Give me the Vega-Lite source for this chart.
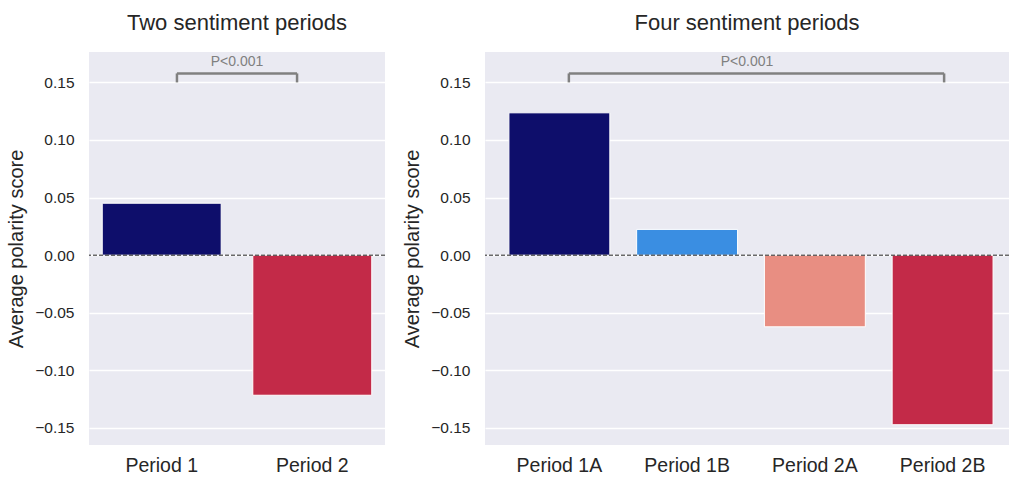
{
  "$schema": "https://vega.github.io/schema/vega-lite/v6.json",
  "background": "white",
  "padding": {"left": 6, "top": 12, "right": 0, "bottom": 0},
  "spacing": 16,
  "resolve": {"scale": {"color": "independent", "x": "independent"}},
  "datasets": {
    "two": [
      {"period": "Period 1", "score": 0.0451},
      {"period": "Period 2", "score": -0.1216}
    ],
    "four": [
      {"period": "Period 1A", "score": 0.1236},
      {"period": "Period 1B", "score": 0.0224},
      {"period": "Period 2A", "score": -0.0622},
      {"period": "Period 2B", "score": -0.1472}
    ],
    "twoSig": [{"from": "Period 1", "to": "Period 2", "label": "P<0.001"}],
    "fourSig": [{"from": "Period 1A", "to": "Period 2B", "label": "P<0.001"}]
  },
  "hconcat": [
    {
      "width": 296,
      "height": 393,
      "title": {"text": "Two sentiment periods"},
      "layer": [
        {
          "data": {"name": "two"},
          "mark": {"type": "bar", "stroke": "white", "strokeWidth": 1},
          "encoding": {
            "x": {"field": "period", "type": "nominal", "title": null, "sort": null,
              "scale": {"paddingInner": 0.21, "paddingOuter": 0.088},
              "axis": {"labelAngle": 0, "labelFontSize": 19.5, "labelPadding": 11, "ticks": false, "domain": false, "grid": false}},
            "y": {"field": "score", "type": "quantitative", "title": "Average polarity score",
              "scale": {"domain": [-0.1648, 0.1764], "nice": false, "zero": false},
              "axis": {"values": [-0.15, -0.1, -0.05, 0, 0.05, 0.1, 0.15], "format": ".2f"}},
            "color": {"field": "period", "type": "nominal", "legend": null,
              "scale": {"domain": ["Period 1", "Period 2"], "range": ["#0e0e6b", "#c32a48"]}}
          }
        },
        {
          "data": {"name": "twoSig"},
          "mark": {"type": "rule", "color": "#222222", "strokeWidth": 1, "strokeDash": [4, 2]},
          "encoding": {"y": {"datum": 0}}
        },
        {
          "data": {"name": "twoSig"},
          "mark": {"type": "rule", "color": "#808080", "strokeWidth": 2.5},
          "encoding": {
            "x": {"field": "from", "type": "nominal", "bandPosition": 0.628, "title": null},
            "x2": {"field": "to", "bandPosition": 0.372},
            "y": {"datum": 0.1578}
          }
        },
        {
          "data": {"name": "twoSig"},
          "mark": {"type": "rule", "color": "#808080", "strokeWidth": 2.5},
          "encoding": {
            "x": {"field": "from", "type": "nominal", "bandPosition": 0.628, "title": null},
            "y": {"datum": 0.1578},
            "y2": {"datum": 0.15}
          }
        },
        {
          "data": {"name": "twoSig"},
          "mark": {"type": "rule", "color": "#808080", "strokeWidth": 2.5},
          "encoding": {
            "x": {"field": "to", "type": "nominal", "bandPosition": 0.372, "title": null},
            "y": {"datum": 0.1578},
            "y2": {"datum": 0.15}
          }
        },
        {
          "data": {"name": "twoSig"},
          "mark": {"type": "text", "color": "#808080", "fontSize": 14, "baseline": "middle"},
          "encoding": {
            "text": {"field": "label"},
            "y": {"datum": 0.1677}
          }
        }
      ]
    },
    {
      "width": 524,
      "height": 393,
      "title": {"text": "Four sentiment periods"},
      "layer": [
        {
          "data": {"name": "four"},
          "mark": {"type": "bar", "stroke": "white", "strokeWidth": 1},
          "encoding": {
            "x": {"field": "period", "type": "nominal", "title": null, "sort": null,
              "scale": {"paddingInner": 0.21, "paddingOuter": 0.156, "align": 0.6},
              "axis": {"labelAngle": 0, "labelFontSize": 19.5, "labelPadding": 11, "ticks": false, "domain": false, "grid": false}},
            "y": {"field": "score", "type": "quantitative", "title": "Average polarity score",
              "scale": {"domain": [-0.1648, 0.1764], "nice": false, "zero": false},
              "axis": {"values": [-0.15, -0.1, -0.05, 0, 0.05, 0.1, 0.15], "format": ".2f"}},
            "color": {"field": "period", "type": "nominal", "legend": null,
              "scale": {"domain": ["Period 1A", "Period 1B", "Period 2A", "Period 2B"], "range": ["#0e0e6b", "#3a8ee2", "#e88e82", "#c32a48"]}}
          }
        },
        {
          "data": {"name": "fourSig"},
          "mark": {"type": "rule", "color": "#222222", "strokeWidth": 1, "strokeDash": [4, 2]},
          "encoding": {"y": {"datum": 0}}
        },
        {
          "data": {"name": "fourSig"},
          "mark": {"type": "rule", "color": "#808080", "strokeWidth": 2.5},
          "encoding": {
            "x": {"field": "from", "type": "nominal", "bandPosition": 0.594, "title": null},
            "x2": {"field": "to", "bandPosition": 0.515},
            "y": {"datum": 0.1578}
          }
        },
        {
          "data": {"name": "fourSig"},
          "mark": {"type": "rule", "color": "#808080", "strokeWidth": 2.5},
          "encoding": {
            "x": {"field": "from", "type": "nominal", "bandPosition": 0.594, "title": null},
            "y": {"datum": 0.1578},
            "y2": {"datum": 0.15}
          }
        },
        {
          "data": {"name": "fourSig"},
          "mark": {"type": "rule", "color": "#808080", "strokeWidth": 2.5},
          "encoding": {
            "x": {"field": "to", "type": "nominal", "bandPosition": 0.515, "title": null},
            "y": {"datum": 0.1578},
            "y2": {"datum": 0.15}
          }
        },
        {
          "data": {"name": "fourSig"},
          "mark": {"type": "text", "color": "#808080", "fontSize": 14, "baseline": "middle"},
          "encoding": {
            "text": {"field": "label"},
            "y": {"datum": 0.1677}
          }
        }
      ]
    }
  ],
  "config": {
    "font": "Liberation Sans",
    "view": {"fill": "#eaeaf2", "stroke": null},
    "title": {"fontSize": 22, "fontWeight": "normal", "color": "#262626", "offset": 17},
    "axis": {
      "labelFont": "Liberation Sans",
      "titleFont": "Liberation Sans",
      "labelColor": "#262626",
      "titleColor": "#262626",
      "labelFontSize": 15.5,
      "titleFontSize": 20,
      "titleFontWeight": "normal",
      "domain": false,
      "ticks": false,
      "labelPadding": 15,
      "titlePadding": 8,
      "gridColor": "white",
      "gridWidth": 1.3,
      "gridOpacity": 1
    }
  }
}
